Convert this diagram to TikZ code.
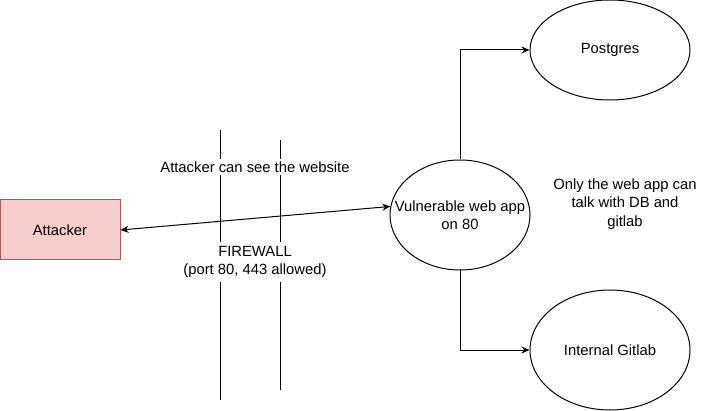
\documentclass[tikz,border=0pt]{standalone}
\usepackage{fontspec}
\setmainfont{Liberation Sans}
\usetikzlibrary{shapes.geometric,arrows.meta}

\definecolor{attackfill}{HTML}{F8CECC}
\definecolor{attackline}{HTML}{B85450}

\tikzset{
  box/.style={draw=attackline, fill=attackfill, line width=1pt, minimum width=120pt, minimum height=60pt, inner sep=0pt},
  service/.style={draw, ellipse, line width=1pt, inner sep=0pt, align=center},
  walltext/.style={fill=white, inner sep=1pt, align=center},
  wire/.style={line width=1pt, -{Stealth[length=8pt,width=7pt]}},
}

\begin{document}
\begin{tikzpicture}[x=1pt, y=-1pt, font=\fontsize{14.8}{18.5}\selectfont]
\useasboundingbox (0,0) rectangle (701,411);

% firewall
\draw[line width=1pt] (220.5,130) -- (220.5,400);
\draw[line width=1pt] (280.5,140) -- (280.5,390);
\node[walltext, inner ysep=3pt] (seesite) at (255,167) {Attacker can see the website};
\node[walltext, inner ysep=4pt] (firewall) at (255,262) {FIREWALL\\(port 80, 443 allowed)};

% hosts
\node[box] (attacker) at (60,230) {Attacker};
\node[service, minimum width=140pt, minimum height=110pt,
  label={[align=center]center:Vulnerable web app\\on 80}] (webapp) at (460,215) {};
\node[service, minimum width=160pt, minimum height=100pt] (postgres) at (610,50) {Postgres};
\node[service, minimum width=160pt, minimum height=120pt] (gitlab) at (610,350) {Internal Gitlab};

% note
\node[align=center] (note) at (625,204) {Only the web app can\\talk with DB and\\gitlab};

% connections
\draw[wire, {Stealth[length=8pt,width=7pt]}-{Stealth[length=8pt,width=7pt]}] (attacker.east) -- (webapp.173);
\draw[wire] (webapp.north) |- (postgres.west);
\draw[wire] (webapp.south) |- (gitlab.west);
\end{tikzpicture}
\end{document}
